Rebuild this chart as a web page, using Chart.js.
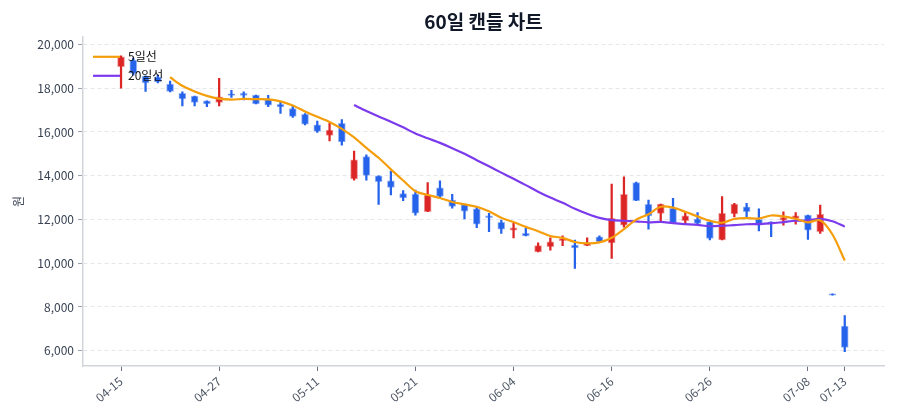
<!DOCTYPE html>
<html>
<head>
<meta charset="utf-8">
<script src="https://cdn.jsdelivr.net/npm/chart.js@4.4.1/dist/chart.umd.min.js"></script>
<style>
  html, body { margin: 0; padding: 0; background: #fff; }
  #wrap { width: 900px; height: 420px; }
</style>
</head>
<body>
<div id="wrap"><canvas id="myChart"></canvas></div>
<script>
const dates = [
  "04-15", "04-16", "04-17", "04-20", "04-21", "04-22", "04-23", "04-24", "04-27", "04-28",
  "04-29", "04-30", "05-04", "05-06", "05-07", "05-08", "05-11", "05-12", "05-13", "05-14",
  "05-15", "05-18", "05-19", "05-20", "05-21", "05-22", "05-26", "05-27", "05-28", "05-29",
  "06-01", "06-02", "06-04", "06-05", "06-08", "06-09", "06-10", "06-11", "06-12", "06-15",
  "06-16", "06-17", "06-18", "06-19", "06-22", "06-23", "06-24", "06-25", "06-26", "06-29",
  "06-30", "07-01", "07-02", "07-03", "07-06", "07-07", "07-08", "07-09", "07-10", "07-13",
];
const tickIndex = [0, 8, 16, 24, 32, 40, 48, 56, 59];
const yTicks = [6000, 8000, 10000, 12000, 14000, 16000, 18000, 20000];

const openP = [
  18990, 19290, 18540, 18510, 18190, 17760, 17640, 17420, 17350, 17740,
  17760, 17690, 17480, 17260, 17070, 16800, 16320, 15840, 16390, 13850,
  14870, 13990, 13760, 13180, 13160, 12360, 13450, 12890, 12680, 12480,
  12170, 11870, 11510, 11360, 10520, 10750, 11030, 10830, 10800, 11210,
  10930, 11740, 13680, 12690, 12280, 12510, 11940, 12020, 11890, 11060,
  12250, 12580, 12000, 11890, 11970, 12050, 12200, 11440, 8600, 7120,
];
const highP = [
  19480, 19380, 18560, 18600, 18330, 17830, 17640, 17420, 18450, 17900,
  17830, 17690, 17670, 17390, 17190, 16840, 16500, 16400, 16570, 15130,
  14950, 13990, 14210, 13320, 13340, 13680, 13760, 13150, 12700, 12580,
  12280, 11970, 11820, 11590, 10930, 11160, 11250, 11060, 11160, 11250,
  13620, 13950, 13710, 12890, 12700, 12960, 12310, 12310, 11890, 13040,
  12740, 12740, 12480, 11890, 12350, 12310, 12200, 12660, 8600, 7610,
];
const lowP = [
  18000, 18600, 17850, 18240, 17830, 17190, 17190, 17160, 17190, 17580,
  17460, 17280, 17160, 16850, 16660, 16320, 15980, 15590, 15400, 13800,
  13800, 12690, 13120, 12860, 12200, 12350, 12960, 12510, 12020, 11620,
  11440, 11360, 11160, 11250, 10520, 10600, 10800, 9760, 10800, 10980,
  10220, 11650, 12860, 11550, 11890, 11850, 11820, 11800, 11060, 11060,
  12120, 12120, 11480, 11210, 11740, 11780, 11090, 11360, 8540, 5950,
];
const closeP = [
  19440, 18680, 18240, 18290, 17850, 17510, 17350, 17280, 17600, 17670,
  17670, 17280, 17230, 17140, 16710, 16360, 16020, 16090, 15540, 14720,
  14010, 13730, 13460, 12980, 12290, 13120, 13050, 12590, 12380, 11780,
  12080, 11560, 11620, 11250, 10800, 10980, 11130, 10700, 10930, 10980,
  12050, 13150, 12860, 12160, 12700, 11850, 12170, 11820, 11130, 12280,
  12700, 12350, 11740, 11820, 12080, 12170, 11510, 12230, 8540, 6150,
];

// moving average lines (5일선 from index 4, 20일선 from index 19)
const ma5 = [
  null, null, null, null, 18500, 18110, 17850, 17650, 17520, 17480,
  17510, 17500, 17490, 17400, 17210, 16940, 16690, 16460, 16140, 15750,
  15270, 14820, 14290, 13780, 13290, 13120, 12980, 12800, 12690, 12580,
  12370, 12080, 11880, 11660, 11460, 11240, 11160, 10970, 10910, 10950,
  11160, 11560, 11990, 12240, 12580, 12540, 12350, 12140, 11940, 11850,
  12020, 12060, 12040, 12180, 12140, 12030, 11870, 11960, 11310, 10120,
];
const ma20 = [
  null, null, null, null, null, null, null, null, null, null,
  null, null, null, null, null, null, null, null, null, 17230,
  16960, 16710, 16470, 16210, 15930, 15710, 15500, 15260, 15000, 14710,
  14430, 14140, 13860, 13570, 13270, 13000, 12760, 12490, 12260, 12070,
  11970, 11940, 11910, 11870, 11890, 11830, 11790, 11750, 11690, 11710,
  11740, 11780, 11790, 11820, 11880, 11940, 11960, 12030, 11920, 11670,
];

const upColor = "#dc2626";
const downColor = "#2563eb";
const candleColors = openP.map((o, i) => (closeP[i] >= o ? upColor : downColor));
const candleEdges = openP.map((o, i) =>
  closeP[i] >= o ? "rgba(220, 38, 38, 0.45)" : "rgba(37, 99, 235, 0.45)"
);

const bodies = openP.map((o, i) => ({ x: i, y: [o, closeP[i]] }));
const wicks = lowP.map((l, i) => ({ x: i, y: [l, highP[i]] }));
const ma5Points = ma5.map((v, i) => ({ x: i, y: v })).filter((p) => p.y !== null);
const ma20Points = ma20.map((v, i) => ({ x: i, y: v })).filter((p) => p.y !== null);

Chart.defaults.font.family = '"Noto Sans CJK KR", "Noto Sans", sans-serif';
Chart.defaults.color = "#374151";

// legend drawn inside the plot, top-left (lines only)
const innerLegend = {
  id: "innerLegend",
  afterDatasetsDraw(chart) {
    const { ctx, chartArea } = chart;
    const lines = chart.data.datasets.filter((d) => d.type === "line");
    ctx.save();
    ctx.font = '12px "Noto Sans CJK KR", "Noto Sans", sans-serif';
    ctx.textBaseline = "middle";
    lines.forEach((d, k) => {
      const y = chartArea.top + 20 + k * 19;
      const x = chartArea.left + 10;
      ctx.strokeStyle = d.borderColor;
      ctx.lineWidth = d.borderWidth;
      ctx.beginPath();
      ctx.moveTo(x, y);
      ctx.lineTo(x + 27, y);
      ctx.stroke();
      ctx.fillStyle = "#111111";
      ctx.fillText(d.label, x + 35, y);
    });
    ctx.restore();
  },
};

const ctx = document.getElementById("myChart").getContext("2d");
const myChart = new Chart(ctx, {
  type: "bar",
  data: {
    datasets: [
      {
        label: "wick",
        data: wicks,
        backgroundColor: candleColors,
        borderWidth: 0,
        barThickness: 1.6,
        grouped: false,
        order: 3,
      },
      {
        label: "body",
        data: bodies,
        backgroundColor: candleColors,
        borderColor: candleEdges,
        borderWidth: 1,
        borderSkipped: false,
        barThickness: 7,
        grouped: false,
        order: 2,
      },
      {
        type: "line",
        label: "5일선",
        data: ma5Points,
        borderColor: "#f59e0b",
        backgroundColor: "#f59e0b",
        borderWidth: 2.2,
        pointRadius: 0,
        tension: 0.3,
        order: 0,
      },
      {
        type: "line",
        label: "20일선",
        data: ma20Points,
        borderColor: "#7c3aed",
        backgroundColor: "#7c3aed",
        borderWidth: 2.2,
        pointRadius: 0,
        tension: 0.3,
        order: 1,
      },
    ],
  },
  options: {
    responsive: true,
    maintainAspectRatio: false,
    animation: false,
    devicePixelRatio: 1,
    layout: { padding: { left: 0, right: 16, top: 0, bottom: 0 } },
    plugins: {
      title: {
        display: true,
        text: "60일 캔들 차트",
        color: "#111827",
        fullSize: false,
        font: { size: 19, weight: "bold" },
        padding: { top: 10, bottom: 4 },
      },
      legend: { display: false },
      tooltip: { enabled: false },
    },
    scales: {
      x: {
        type: "linear",
        offset: false,
        min: -3.1,
        max: 62.2,
        afterBuildTicks: (scale) => {
          scale.ticks = tickIndex.map((v) => ({ value: v }));
        },
        afterFit: (scale) => {
          scale.height = 54;
        },
        ticks: {
          autoSkip: false,
          minRotation: 40,
          maxRotation: 40,
          padding: 3,
          color: "#4b5563",
          font: { size: 12 },
          callback: (v) => dates[v],
        },
        grid: { offset: false, drawOnChartArea: false, tickLength: 5, color: "#6b7280" },
        border: { color: "#d1d5db", width: 1.5 },
      },
      y: {
        min: 5300,
        max: 20350,
        afterBuildTicks: (scale) => {
          scale.ticks = yTicks.map((v) => ({ value: v }));
        },
        afterFit: (scale) => {
          scale.width = 83;
        },
        title: {
          display: true,
          text: "원",
          color: "#374151",
          font: { size: 12 },
          padding: { top: 11, bottom: 0 },
        },
        ticks: {
          color: "#374151",
          font: { size: 12 },
          padding: 4,
          callback: (v) => v.toLocaleString("en-US"),
        },
        grid: { color: "#e5e7eb", tickLength: 5, tickColor: "#9ca3af", tickBorderDash: [] },
        border: { color: "#d1d5db", width: 1.5, dash: [4, 3] },
      },
    },
  },
  plugins: [innerLegend],
});
</script>
</body>
</html>
